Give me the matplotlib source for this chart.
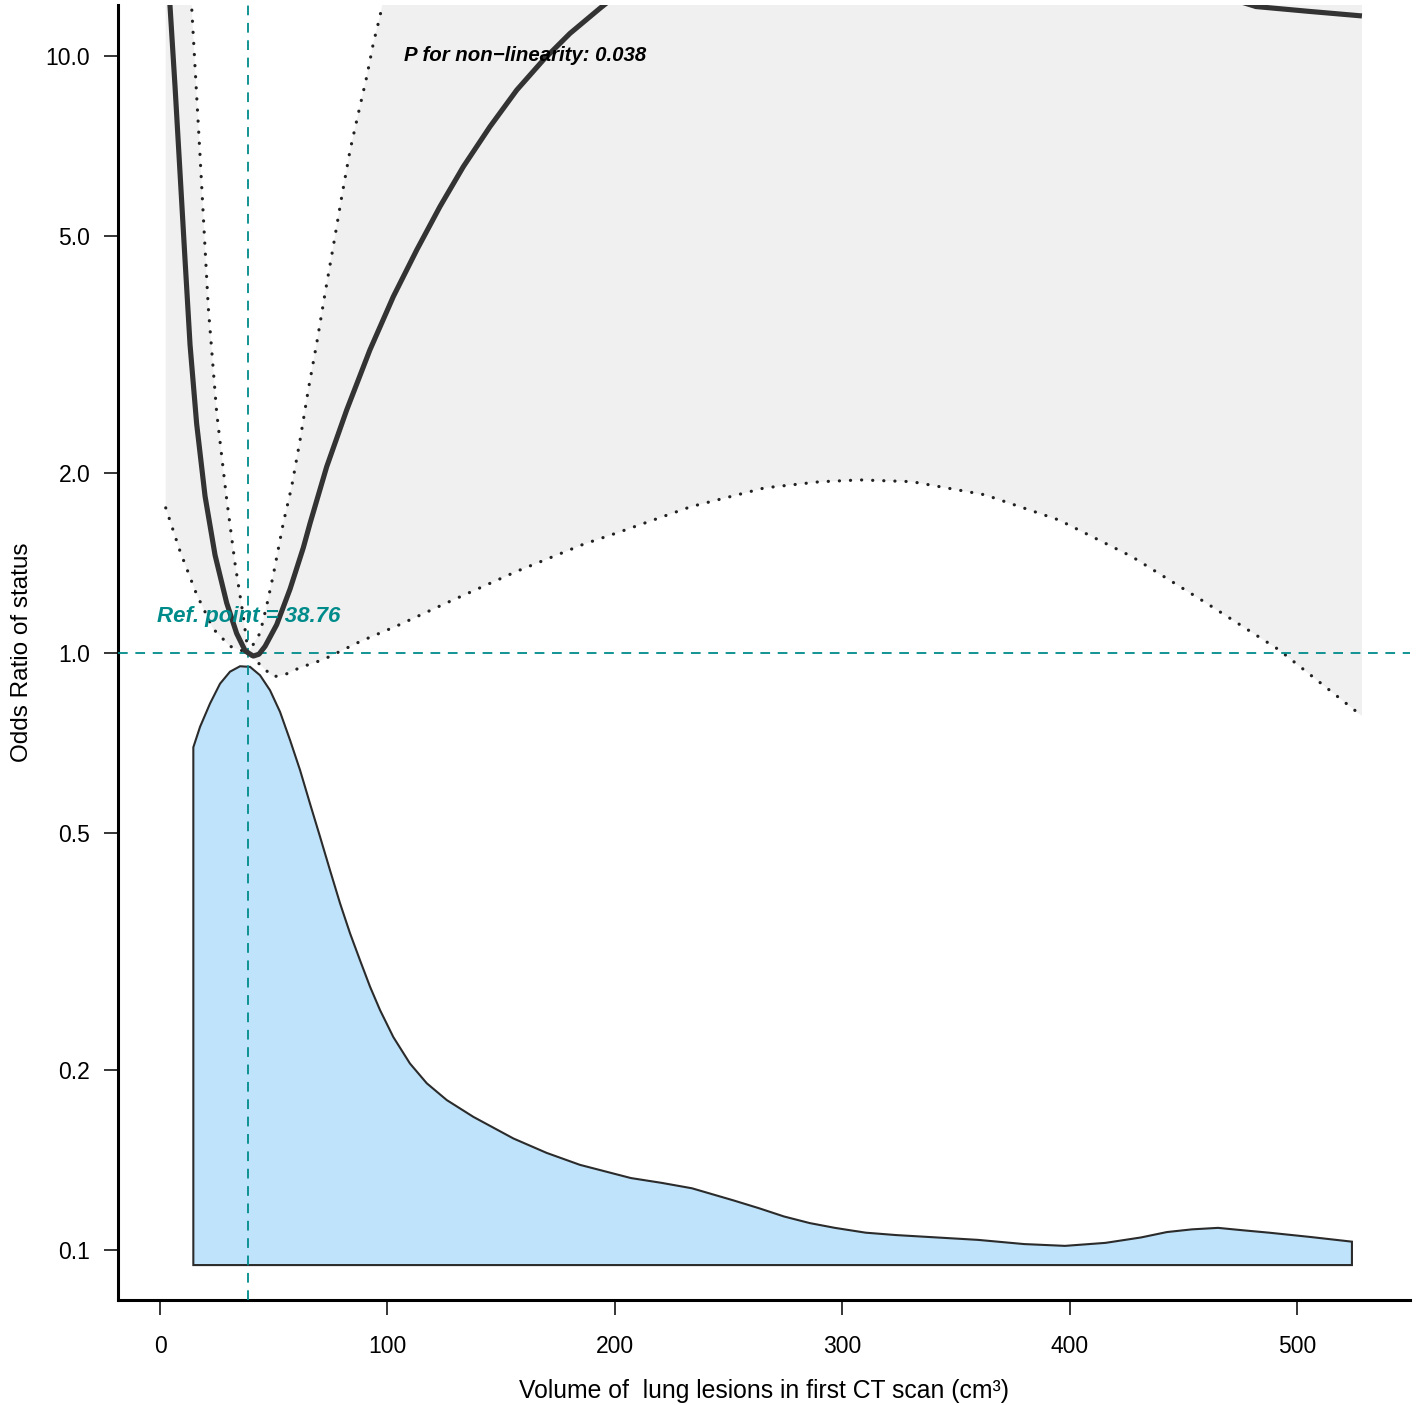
import numpy as np
import matplotlib
matplotlib.use("Agg")
import matplotlib.pyplot as plt

plt.rcParams['font.family'] = ['Liberation Sans', 'DejaVu Sans']
plt.rcParams['lines.scale_dashes'] = False

# fitted odds ratio curve (values above ~12 are off-scale)
x_fit = [2.5, 4.4, 6.6, 8.8, 11.0, 13.2, 16.1, 19.8, 24.2, 29.3, 33.7, 37.4, 38.76, 41.0,
         43.5, 46.2, 51.3, 57.2, 63.0, 66.0, 73.3, 82.1, 92.3, 102.6, 112.9, 123.1,
         133.4, 145.1, 156.9, 168.6, 180.3, 193.5, 210, 250, 300, 350, 400, 450,
         482, 505, 528.6]
or_fit = [15.8, 12.1, 8.88, 6.36, 4.55, 3.28, 2.42, 1.83, 1.458, 1.213, 1.078, 1.009, 1.0, 0.988,
          0.995, 1.026, 1.115, 1.28, 1.5, 1.650, 2.051, 2.553, 3.218, 3.953, 4.732, 5.593,
          6.526, 7.613, 8.77, 9.85, 10.91, 12.02, 13.5, 15.5, 16.5, 16.3, 15.0, 13.2,
          12.1, 11.88, 11.67]

# upper 95% CI
x_up = [2.5, 8, 13.9, 17.6, 21.2, 24.9, 29.3, 33.0, 36.6, 38.76, 44, 46.9, 49.8, 54.2,
        57.9, 61.6, 65.2, 68.9, 72.6, 76.2, 79.9, 83.6, 87.2, 90.9, 93.8, 96.7, 100,
        120, 160, 250, 350, 450, 528.6]
up = [72, 30, 12.1, 6.8, 3.8, 2.53, 1.81, 1.41, 1.153, 1.0, 1.08, 1.2, 1.35, 1.65,
      1.90, 2.275, 2.76, 3.30, 4.01, 4.80, 5.81, 6.96, 8.01, 9.23, 10.5, 11.64, 13.5,
      28, 55, 90, 110, 150, 175]

# lower 95% CI
x_lo = [2.5, 8.8, 16.1, 23.4, 30.8, 38.76, 45.4, 49.8, 55, 61.6, 71.9, 88, 104.2,
        127.5, 156.9, 186.1, 201.2, 233.5, 265.9, 290, 307.8, 330.6, 362.8, 395.3,
        427.4, 460, 492.1, 528.6]
lo = [1.75, 1.48, 1.253, 1.097, 1.026, 1.0, 0.944, 0.912, 0.92, 0.945, 0.975, 1.045, 1.11,
      1.22, 1.37, 1.52, 1.59, 1.758, 1.89, 1.935, 1.949, 1.936, 1.84, 1.67,
      1.45, 1.213, 1.012, 0.784]

# distribution of the predictor (relative density)
x_dens = [14.64, 17.59, 21.99, 26.39, 30.78, 35.18, 39.58, 43.98, 48.37, 52.77, 57.17,
          61.57, 65.96, 70.36, 74.76, 79.16, 83.55, 87.95, 92.35, 96.75, 102.6, 109.9,
          117.3, 126.1, 137.8, 155.4, 170, 184.7, 195.9, 207.1, 220.6, 233.9, 252.0,
          263.2, 274.4, 285.7, 296.8, 310.3, 323.7, 341.7, 359.7, 380, 398.0, 415.8,
          431.4, 442.8, 453.8, 465.3, 476.2, 487.7, 505.5, 524.2]
dens = [0.863, 0.897, 0.936, 0.969, 0.989, 0.998, 0.997, 0.983, 0.958, 0.922, 0.875,
        0.825, 0.769, 0.714, 0.658, 0.603, 0.553, 0.508, 0.464, 0.425, 0.380, 0.336,
        0.303, 0.275, 0.247, 0.211, 0.187, 0.167, 0.156, 0.145, 0.137, 0.128, 0.108,
        0.095, 0.081, 0.070, 0.062, 0.054, 0.050, 0.046, 0.042, 0.035, 0.032, 0.037,
        0.046, 0.055, 0.0595, 0.062, 0.058, 0.054, 0.047, 0.039]

ref_point = 38.76
yticks = [0.1, 0.2, 0.5, 1.0, 2.0, 5.0, 10.0]
ytick_labels = ['0.1', '0.2', '0.5', '1.0', '2.0', '5.0', '10.0']
xticks = [0, 100, 200, 300, 400, 500]

teal = '#008B8B'

fig = plt.figure(figsize=(14.18, 14.05), dpi=100)
ax = fig.add_axes([0.0832, 0.0747, 0.9111, 0.9217])
ax2 = ax.twinx()
ax2.set_zorder(ax.get_zorder() - 1)
ax.patch.set_visible(False)

# density on the hidden twin axis
xd = np.concatenate([x_dens, [x_dens[-1], x_dens[0]]])
yd = np.concatenate([dens, [0, 0]])
ax2.fill(xd, yd, facecolor='#BEE3FA', edgecolor='#2b2b2b', linewidth=1.5)
ax2.set_ylim(-0.0583, 2.1)
ax2.axis('off')

# confidence band
px = np.concatenate([x_up, x_lo[::-1]])
py = np.concatenate([up, lo[::-1]])
ax.fill(px, py, facecolor='#F0F0F0', edgecolor='none', zorder=1)
dot = (0, (0.1, 7.9))
ax.plot(x_up, up, color='#222222', lw=2.3, linestyle=dot, dash_capstyle='round', zorder=3)
ax.plot(x_lo, lo, color='#222222', lw=2.3, linestyle=dot, dash_capstyle='round', zorder=3)

# reference lines
ax.axhline(1.0, color=teal, lw=1.3, linestyle=(0, (7, 5.5)), zorder=4)
ax.axvline(ref_point, color=teal, lw=1.3, linestyle=(0, (7, 5.5)), zorder=4)

ax.plot(x_fit, or_fit, color='#333333', lw=3.7, solid_capstyle='butt',
        solid_joinstyle='round', zorder=5)

ax.set_yscale('log')
ax.set_ylim(0.0824, 12.17)
ax.set_xlim(-18.5, 549.7)
ax.set_yticks(yticks)
ax.set_yticklabels(ytick_labels)
ax.yaxis.set_minor_locator(matplotlib.ticker.NullLocator())
ax.set_xticks(xticks)

for s in ['top', 'right']:
    ax.spines[s].set_visible(False)
for s in ['left', 'bottom']:
    ax.spines[s].set_linewidth(2.2)

ax.tick_params(axis='y', length=10, width=1.1, pad=10, labelsize=16.5)
ax.tick_params(axis='x', length=11, width=1.1, pad=14, labelsize=16.5)

ax.text(-1.3, 1.153, 'Ref. point = 38.76', color=teal, fontsize=16,
        fontweight='bold', fontstyle='italic', va='center', ha='left', zorder=6)
ax.text(107.3, 10.0, 'P for non\u2212linearity: 0.038', color='black', fontsize=14.7,
        fontweight='bold', fontstyle='italic', va='center', ha='left', zorder=6)

ax.set_xlabel('Volume of  lung lesions in first CT scan (cm\u00b3)', fontsize=17.8, labelpad=15)
ax.set_ylabel('Odds Ratio of status', fontsize=17.5, labelpad=9)

fig.savefig('out.png', dpi=100)
